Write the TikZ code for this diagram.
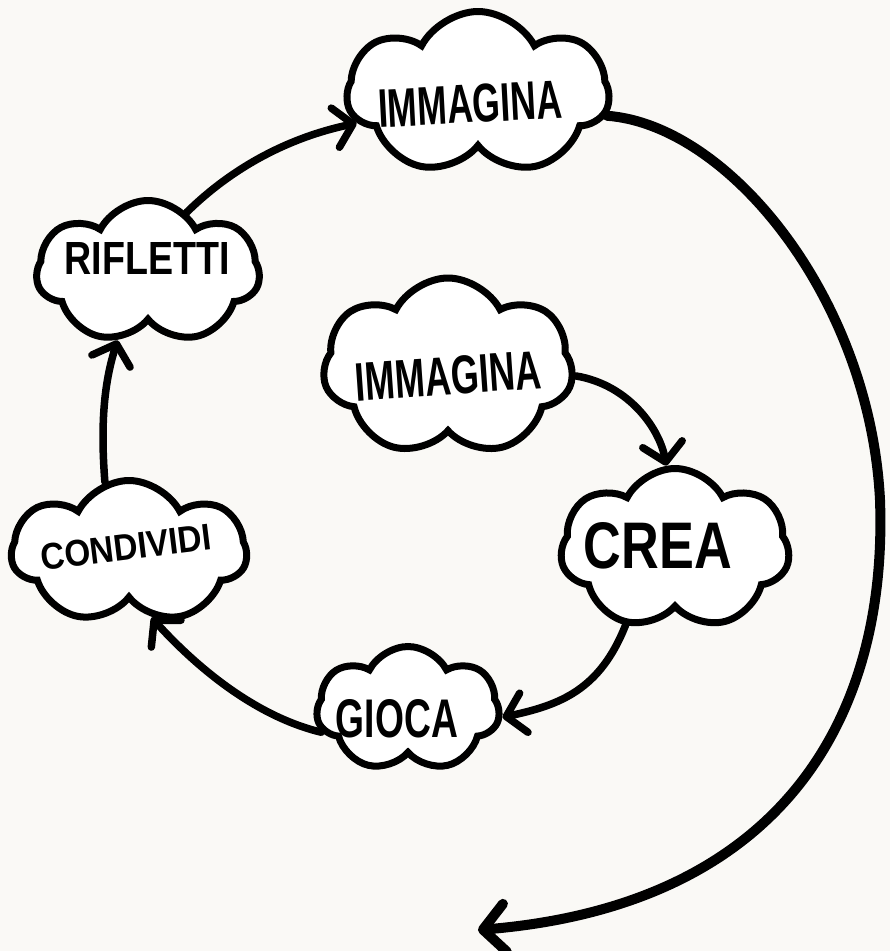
\documentclass[tikz,border=0pt]{standalone}
\usepackage{fontspec}
\setmainfont{Liberation Sans}
\usetikzlibrary{shapes.symbols,arrows.meta}
\definecolor{paper}{RGB}{250,249,246}
\tikzset{
  cloudbox/.style={cloud, draw=black, fill=white, line width=7pt, cloud puffs=#1,
    cloud puff arc=125, cloud ignores aspect, inner sep=0pt},
  lbl/.style={inner sep=0pt, font=\bfseries},
  flow/.style={line width=7.5pt, line cap=round,
    -{Straight Barb[length=18pt,width=40pt,round]}},
  bigflow/.style={line width=10pt, line cap=round,
    -{Straight Barb[length=22pt,width=48pt,round]}},
}
\newcommand{\hw}[3]{\resizebox{#1pt}{#2pt}{#3}}
\begin{document}
\begin{tikzpicture}[x=1pt,y=-1pt]
\fill[paper] (0,0) rectangle (890,951);
\useasboundingbox (0,0) rectangle (890,951);

% clouds
\node[cloudbox=7, minimum width=262pt, minimum height=163pt] (imA) at (478,93) {};
\node[cloudbox=7, minimum width=223pt, minimum height=143pt] (rif) at (148,272) {};
\node[cloudbox=7, minimum width=250pt, minimum height=178pt] (imB) at (448,367) {};
\node[cloudbox=7, minimum width=235pt, minimum height=143pt] (con) at (129,552) {};
\node[cloudbox=7, minimum width=229pt, minimum height=161pt] (cre) at (675,549) {};
\node[cloudbox=7, minimum width=183pt, minimum height=125pt] (gio) at (408,709) {};

% labels
\node[lbl, rotate=3] (tA) at (470,104) {\hw{184}{38}{IMMAGINA}};
\node[lbl] (tR) at (147,258) {\hw{165}{32}{RIFLETTI}};
\node[lbl, rotate=4] (tB) at (448,376) {\hw{186}{38}{IMMAGINA}};
\node[lbl, rotate=7] (tC) at (126,547) {\hw{172}{26}{CONDIVIDI}};
\node[lbl] (tE) at (658,546) {\hw{148}{46}{CREA}};
\node[lbl] (tG) at (397,719) {\hw{122}{38}{GIOCA}};

\coordinate (bigend) at (478,930);

% connectors
\draw[flow] (rif.57) .. controls (240,160) and (300,135) .. (imA.194);
\draw[bigflow] (imA.350) .. controls (730,125) and (870,300) .. (880,500)
   .. controls (888,720) and (780,905) .. (bigend);
\draw[flow] (imB.356) .. controls (630,385) and (660,430) .. (cre.96);
\draw[flow] (cre.237) .. controls (600,690) and (560,705) .. (gio.355);
\draw[flow] (gio.195) .. controls (250,715) and (190,660) .. (con.289);
\draw[flow] (con.109) .. controls (100,420) and (105,380) .. (rif.246);
\end{tikzpicture}
\end{document}
